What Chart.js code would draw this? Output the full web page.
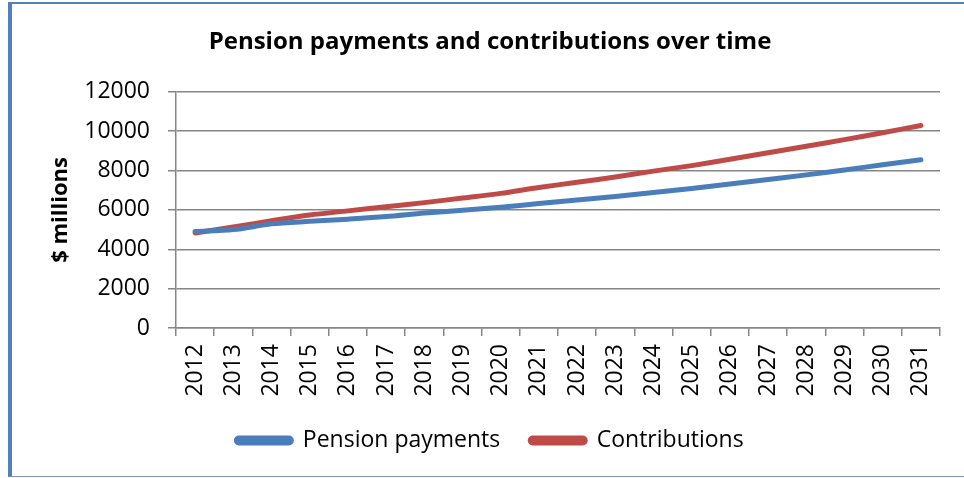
<!DOCTYPE html>
<html>
<head>
<meta charset="utf-8">
<script src="https://cdn.jsdelivr.net/npm/chart.js@4.4.1/dist/chart.umd.min.js"></script>
<style>
  html, body { margin: 0; padding: 0; background: #ffffff; }
  body { width: 964px; height: 478px; position: relative; overflow: hidden; }
  #frame {
    position: absolute; left: 8px; top: 2px; width: 960px; height: 472px;
    border-left: 4px solid #4F81BD; border-top: 2px solid #4F81BD;
    border-bottom: 1px solid #7D94B6;
  }
  #c { position: absolute; left: 0; top: 0; }
</style>
</head>
<body>
<div id="frame"></div>
<canvas id="c" width="964" height="478"></canvas>
<script>
// Years on the horizontal axis
const years = ['2012','2013','2014','2015','2016','2017','2018','2019','2020','2021',
               '2022','2023','2024','2025','2026','2027','2028','2029','2030','2031'];

// $ millions per year
const pensionPayments = [4900, 5000, 5290, 5420, 5530, 5660, 5840, 5980, 6140, 6320,
                         6500, 6680, 6880, 7090, 7320, 7540, 7780, 8030, 8290, 8550];
const contributions   = [4830, 5130, 5450, 5740, 5950, 6160, 6370, 6600, 6840, 7140,
                         7400, 7670, 7970, 8250, 8570, 8900, 9230, 9570, 9920, 10290];

const yTicks = [0, 2000, 4000, 6000, 8000, 10000, 12000];

const FONT = "'Open Sans', 'Noto Sans', sans-serif";
const BLUE = '#4A7EBB';
const RED = '#BE4B48';
const GRID = '#868686';

new Chart(document.getElementById('c'), {
  type: 'line',
  data: {
    labels: years,
    datasets: [
      { label: 'Pension payments', data: pensionPayments, borderColor: BLUE, backgroundColor: BLUE,
        borderWidth: 5, pointRadius: 0, tension: 0.3, borderCapStyle: 'round' },
      { label: 'Contributions', data: contributions, borderColor: RED, backgroundColor: RED,
        borderWidth: 5, pointRadius: 0, tension: 0.3, borderCapStyle: 'round' }
    ]
  },
  options: {
    responsive: false,
    animation: false,
    layout: { padding: { left: 40, right: 24, top: 20, bottom: 16 } },
    plugins: {
      title: {
        display: true,
        text: 'Pension payments and contributions over time',
        color: '#000',
        font: { family: FONT, size: 24, weight: 'bold' },
        padding: { top: 8, bottom: 35 }
      },
      legend: {
        position: 'bottom',
        labels: {
          color: '#000',
          font: { family: FONT, size: 23 },
          boxWidth: 55, boxHeight: 5, padding: 30,
          useBorderRadius: true, borderRadius: 2.5
        }
      },
      tooltip: { enabled: false }
    },
    scales: {
      x: {
        offset: true,
        grid: { offset: true, drawOnChartArea: false, drawTicks: true, tickLength: 8, color: GRID, lineWidth: 1.5 },
        border: { color: GRID, width: 1.5 },
        ticks: { color: '#000', font: { family: FONT, size: 23 }, maxRotation: 90, minRotation: 90, padding: 8, autoSkip: false },
        afterFit: s => { s.height = 71; }
      },
      y: {
        min: 0, max: 12000,
        afterBuildTicks: s => { s.ticks = yTicks.map(v => ({ value: v })); },
        grid: { color: GRID, lineWidth: 1.5, tickLength: 8 },
        border: { color: GRID, width: 1.5 },
        ticks: { color: '#000', font: { family: FONT, size: 23 }, padding: 18, callback: v => String(v) },
        title: { display: true, text: '$ millions', color: '#000', font: { family: FONT, size: 22, weight: 'bold' }, padding: { top: 8, bottom: 0 } },
        afterFit: s => { s.width = 136; }
      }
    }
  }
});
</script>
</body>
</html>
